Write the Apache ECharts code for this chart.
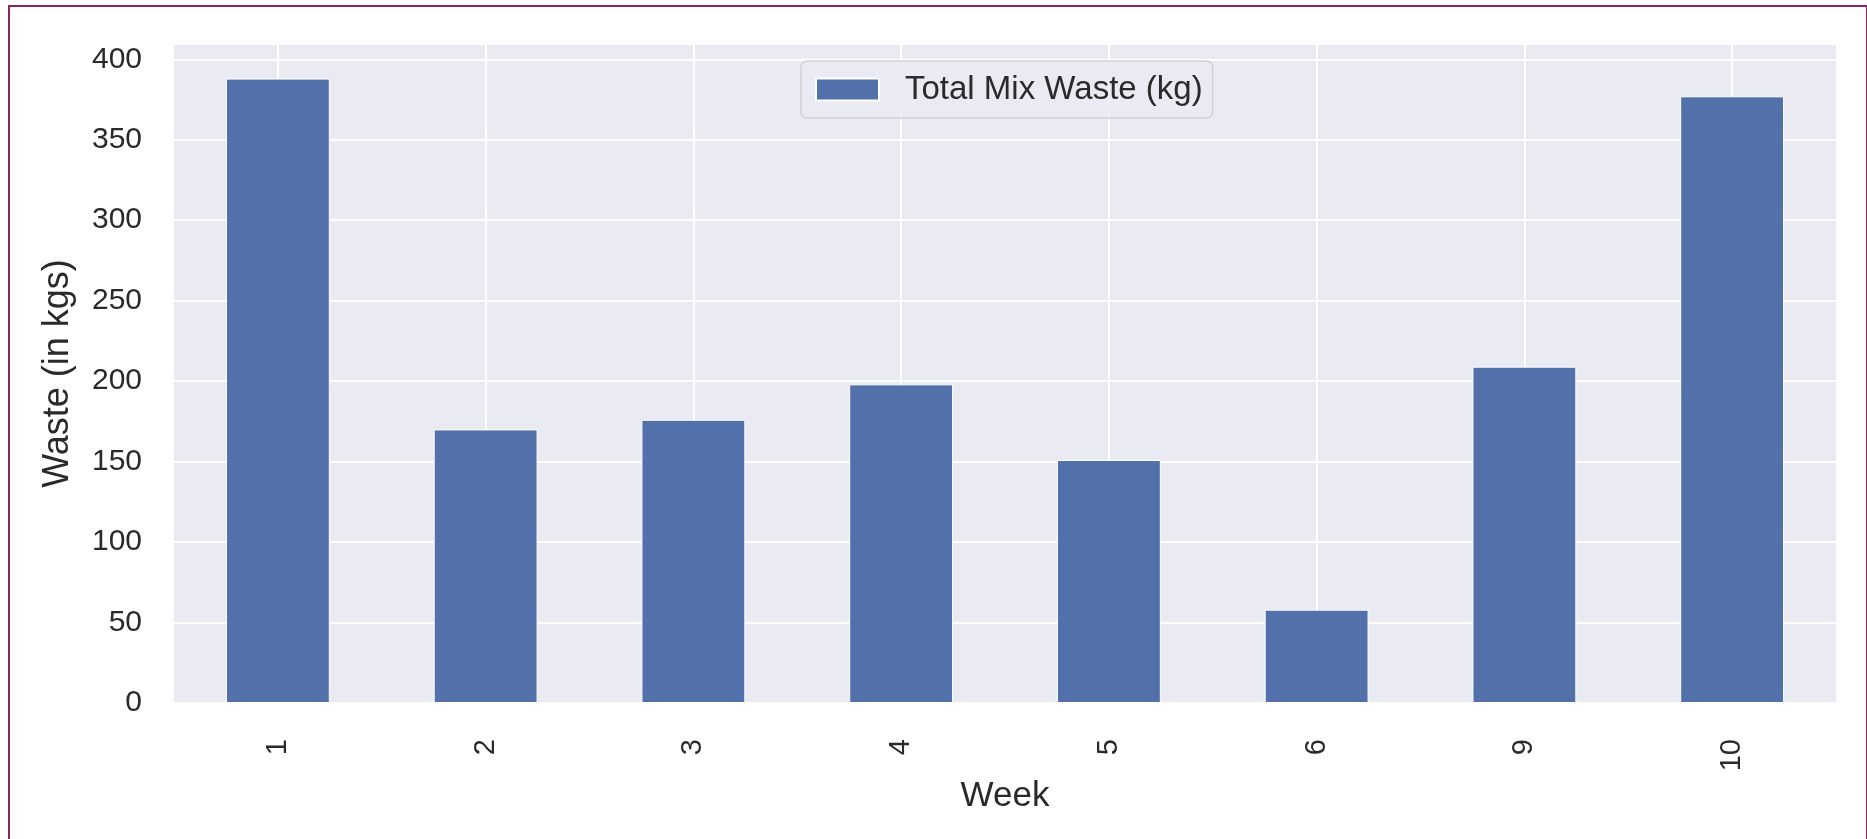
<!DOCTYPE html>
<html>
<head>
<meta charset="utf-8">
<script src="https://cdn.jsdelivr.net/npm/echarts@6/dist/echarts.min.js"></script>
<style>
  html, body { margin: 0; padding: 0; background: #ffffff; }
  #chart { position: absolute; left: 0; top: 0; width: 1867px; height: 839px; }
  #frame { position: absolute; left: 8px; top: 5px; width: 1856px; height: 850px;
           border-top: 2px solid #8c2462; border-left: 2px solid #8c2462; border-right: 2px solid #8c2462;
           pointer-events: none; }
</style>
</head>
<body>
<div id="chart"></div>
<div id="frame"></div>
<script>
const weeks = ['1', '2', '3', '4', '5', '6', '9', '10'];
const totalMixWaste = [388, 170, 176, 198, 151, 58, 209, 377];
const seriesName = 'Total Mix Waste (kg)';
const yTicks = [0, 50, 100, 150, 200, 250, 300, 350, 400];
const yMax = 409.5;

const textColor = '#2a2a2a';
const fontFamily = 'Liberation Sans, Arial, sans-serif';

const chart = echarts.init(document.getElementById('chart'), null, { renderer: 'canvas' });
chart.setOption({
  animation: false,
  backgroundColor: '#ffffff',
  textStyle: { fontFamily: fontFamily, color: textColor },
  grid: {
    left: 174, right: 31, top: 44, bottom: 136,
    show: true, backgroundColor: '#eaeaf2', borderWidth: 0
  },
  legend: {
    left: 801, top: 61,
    data: [seriesName],
    itemWidth: 63, itemHeight: 22,
    padding: [12, 10, 12, 14],
    backgroundColor: 'rgba(234,234,242,0.85)',
    borderColor: '#d0d0d4', borderWidth: 1.5, borderRadius: 6,
    icon: 'rect',
    textStyle: { fontSize: 33, color: textColor, fontFamily: fontFamily, lineHeight: 32, padding: [0, 0, 0, 21] }
  },
  xAxis: {
    type: 'category',
    data: weeks,
    name: 'Week',
    nameLocation: 'middle',
    nameGap: 75,
    nameTextStyle: { fontSize: 35, color: textColor, fontFamily: fontFamily },
    axisLine: { show: false },
    axisTick: { show: false },
    axisLabel: { rotate: 90, fontSize: 29, color: textColor, margin: 36, fontFamily: fontFamily },
    splitLine: { show: true, alignWithLabel: true, lineStyle: { color: '#ffffff', width: 2 } }
  },
  yAxis: {
    type: 'value',
    min: 0, max: yMax, interval: 50,
    name: 'Waste (in kgs)',
    nameLocation: 'middle',
    nameGap: 98,
    nameTextStyle: { fontSize: 36, color: textColor, fontFamily: fontFamily },
    axisLine: { show: false },
    axisTick: { show: false },
    axisLabel: {
      fontSize: 30, color: textColor, margin: 32, fontFamily: fontFamily,
      showMaxLabel: false,
      formatter: function (v) { return yTicks.indexOf(v) >= 0 ? String(v) : ''; }
    },
    splitLine: { show: true, lineStyle: { color: '#ffffff', width: 2 } }
  },
  series: [{
    name: seriesName,
    type: 'bar',
    data: totalMixWaste,
    barWidth: '50%',
    itemStyle: { color: '#5271ab', borderColor: '#ffffff', borderWidth: 1 }
  }]
});
</script>
</body>
</html>
